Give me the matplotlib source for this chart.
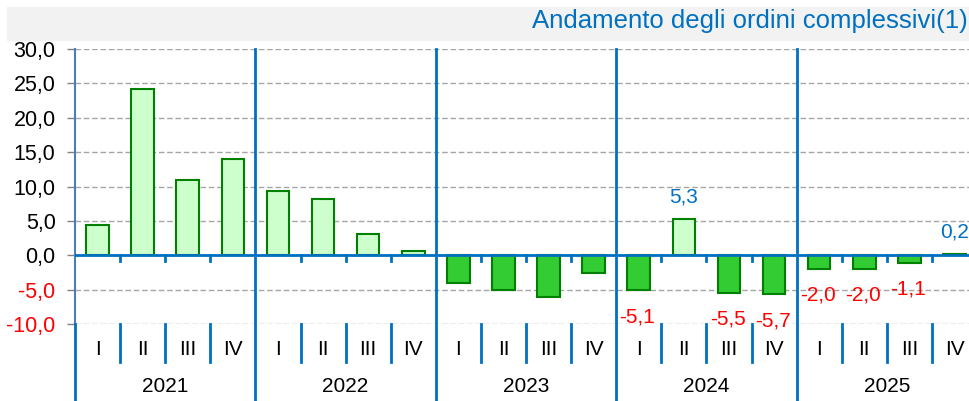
import matplotlib
matplotlib.use("Agg")
import matplotlib.pyplot as plt
import matplotlib.transforms as mtransforms
from matplotlib.patches import Rectangle

plt.rcParams['font.family'] = ['Liberation Sans', 'DejaVu Sans']

# data
years = ["2021", "2022", "2023", "2024", "2025"]
quarters = ["I", "II", "III", "IV"]
values = [4.4, 24.2, 11.0, 14.0,
          9.3, 8.2, 3.1, 0.6,
          -4.1, -5.0, -6.0, -2.6,
          -5.1, 5.3, -5.5, -5.7,
          -2.0, -2.0, -1.1, 0.2]
# only the last two years carry value labels
labelled_from = 12
yticks = [-10, -5, 0, 5, 10, 15, 20, 25, 30]

BLUE = "#0070C0"
W, H = 969, 401

fig = plt.figure(figsize=(W / 100, H / 100), dpi=100)

# grey title band
fig.patches.append(Rectangle((7 / W, 1 - 40 / H), 1 - 7 / W, 33 / H,
                             transform=fig.transFigure, color="#F2F2F2", zorder=0))
fig.text(1 - 1 / W, 1 - 21 / H, "Andamento degli ordini complessivi(1)",
         ha="right", va="center", color=BLUE, fontsize=18.5)

# axes: x=0 at px 75, x=20 at px 977 (runs past the right edge)
left, right, top, bottom = 75, 977, 49, 324
ax = fig.add_axes([left / W, 1 - bottom / H, (right - left) / W, (bottom - top) / H])
ax.set_xlim(0, 20)
ax.set_ylim(-10, 30)

n = len(values)
xs = [i + 0.5 for i in range(n)]
face = ["#CCFFCC" if v >= 0 else "#33CC33" for v in values]
ax.bar(xs, values, width=0.5, color=face, edgecolor="#008000", linewidth=1.5, zorder=3)

# grid
for t in yticks:
    if t != 0:
        ax.axhline(t, color="#A6A6A6", linestyle=(0, (4, 2)), linewidth=1, zorder=1)
ax.axhline(0, color=BLUE, linewidth=2, zorder=4)

for s in ["top", "right", "bottom"]:
    ax.spines[s].set_visible(False)
ax.spines["left"].set_color("#4A7EBB")
ax.spines["left"].set_linewidth(1.5)

ax.set_xticks([])
ax.set_yticks(yticks)
ax.set_yticklabels([f"{t:.1f}".replace(".", ",") for t in yticks], fontsize=15.5)
for lab, t in zip(ax.get_yticklabels(), yticks):
    lab.set_color("#FF0000" if t < 0 else "black")
ax.tick_params(axis="y", length=6, width=1, color="#808080", pad=8)

trans = mtransforms.blended_transform_factory(ax.transData, ax.transAxes)

# year separators, full height down into the label area
for k in range(1, len(years) + 1):
    ax.plot([4 * k, 4 * k], [1, -0.3], transform=trans, color=BLUE,
            linewidth=2, clip_on=False, zorder=5)
ax.plot([0, 0], [0, -0.3], transform=trans, color=BLUE, linewidth=2,
        clip_on=False, zorder=5)

# quarter separators: small tick at zero line and lines in the category row
for i in range(1, n):
    if i % 4 == 0:
        continue
    ax.plot([i, i], [0, -0.85], color=BLUE, linewidth=2, zorder=5)
    ax.plot([i, i], [0, -0.138], transform=trans, color=BLUE,
            linewidth=2, clip_on=False, zorder=5)

# category labels
for i, x in enumerate(xs):
    ax.text(x, -0.094, quarters[i % 4], transform=trans, ha="center",
            va="center", fontsize=15)
for k, y in enumerate(years):
    ax.text(4 * k + 2, -0.229, y, transform=trans, ha="center",
            va="center", fontsize=15)

# value labels
for i in range(labelled_from, n):
    v = values[i]
    txt = f"{v:.1f}".replace(".", ",")
    if v >= 0:
        ax.annotate(txt, (xs[i], v), xytext=(0, 16), textcoords="offset points",
                    ha="center", va="center", color=BLUE, fontsize=15, zorder=6)
    else:
        ax.annotate(txt, (xs[i], v), xytext=(-1, -19), textcoords="offset points",
                    ha="center", va="center", color="#FF0000", fontsize=15, zorder=6)

fig.savefig("out.png", dpi=100)
